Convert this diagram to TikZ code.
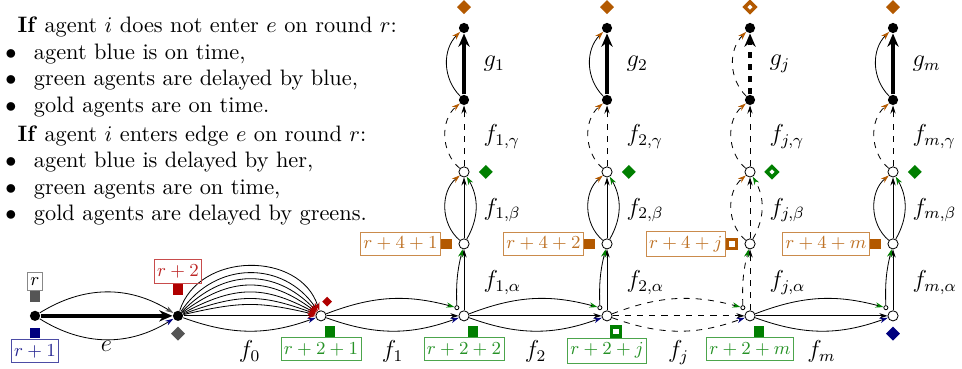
\documentclass[tikz,border=0pt]{standalone}
\usepackage{amsmath,amssymb}
\usepackage{xcolor}
\usepackage{tikz}
\usetikzlibrary{arrows.meta,positioning,shapes.geometric,calc}
\definecolor{agblue}{HTML}{00007F}
\definecolor{agred}{HTML}{B00000}
\definecolor{aggreen}{HTML}{007F00}
\definecolor{aggold}{HTML}{B35900}
\definecolor{aggray}{HTML}{555555}
\newcommand{\itm}{\makebox[14pt][l]{$\bullet$}}

\begin{document}
\begin{tikzpicture}[
    x=2.464cm, y=1.24cm,
    lbl/.style={font=\large, inner sep=1pt},
    txt/.style={align=left, anchor=north west, inner sep=0pt, font=\fontsize{10.95}{13}\selectfont},
    blk/.style={circle, fill=black, inner sep=0pt, minimum size=5pt},
    opn/.style={circle, draw, fill=white, inner sep=0pt, minimum size=5pt},
    tiny/.style={circle, draw, fill=white, inner sep=0pt, minimum size=2pt},
    tipc/.style={-{Stealth[length=4pt, width=2.6pt, color=#1]}},
    thickarr/.style={line width=1.8pt, -{Stealth[length=6.5pt, width=5.5pt]}},
    rbox/.style={draw=#1!70, text=#1!85, font=\small, inner xsep=1.5pt, inner ysep=2.4pt},
    sq/.style={rectangle, inner sep=0pt, minimum size=5.2pt, hollow/.style={minimum size=4.4pt}},
    dm/.style={diamond, inner sep=0pt, minimum size=7pt, hollow/.style={minimum size=5.8pt}},
    mk/.code 2 args={\ifnum#1=1 \pgfkeysalso{draw=#2, fill=white, line width=1.7pt, hollow}\else\pgfkeysalso{fill=#2}\fi}
  ]
  \useasboundingbox (-2.2448,-0.736) rectangle (4.4825,4.389);

  % conditions
  \node[txt] (cond1) at (-2.21,4.16) {\hspace*{6pt}\textbf{If} agent $i$ does not enter $e$ on round $r$:\\
    \itm agent blue is on time,\\
    \itm green agents are delayed by blue,\\
    \itm gold agents are on time.};
  \node[txt] (cond2) at (-2.21,2.65) {\hspace*{6pt}\textbf{If} agent $i$ enters edge $e$ on round $r$:\\
    \itm agent blue is delayed by her,\\
    \itm green agents are on time,\\
    \itm gold agents are delayed by greens.};

  % edge e and the bundle f_0
  \node[blk] (v0) at (-2,0) {};
  \node[blk] (v1) at (-1,0) {};
  \node[opn] (w0) at (0,0) {};
  \draw[thickarr] (v0) -- (v1);
  \draw[tipc=aggray] (v0) to[bend left=32] (v1);
  \draw[tipc=agblue] (v0) to[bend right=32] (v1);
  \foreach \a in {0,13,20,28,37,46,56,72}
    \draw[tipc=agred, looseness=1.15] (v1) to[bend left=\a] (w0);
  \draw[tipc=agblue] (v1) to[bend right=20] (w0);
  \node[lbl, anchor=north] (le) at (-1.5,-0.31) {$e$};
  \node[lbl, anchor=north] (lf0) at (-0.5,-0.31) {$f_0$};

  \node[sq, fill=aggray, above=4pt of v0] (qr) {};
  \node[rbox=aggray, text=black, above=0pt of qr] (tr) {$r$};
  \node[sq, fill=agblue, below=3pt of v0] (qb) {};
  \node[rbox=agblue, below=0pt of qb] (tb) {$r+1$};
  \node[sq, fill=agred, above=7.5pt of v1] (qred) {};
  \node[rbox=agred, above=0pt of qred] (tred) {$r+2$};
  \node[dm, fill=aggray, below=2.3pt of v1] (dgray) {};
  \node[dm, fill=agred, minimum size=5pt] (dred) at ([shift={(3pt,7pt)}]w0) {};

  % the m branches
  \foreach \k/\s/\ls/\hol in {1/1/solid/0, 2/2/solid/0, 3/j/dashed/1, 4/m/solid/0} {
    \pgfmathtruncatemacro{\p}{\k-1}
    \node[opn] (w\k) at (\k,0) {};
    \node[tiny] (s\k) at ([shift={(-3.5pt,4pt)}]w\k) {};
    \node[opn] (a\k) at (\k,1) {};
    \node[opn] (b\k) at (\k,2) {};
    \node[blk] (c\k) at (\k,3) {};
    \node[blk] (d\k) at (\k,4) {};

    \draw[\ls, tipc=aggreen] (w\p) to[bend left=18] (s\k);
    \draw[\ls, tipc=black] (w\p) -- (w\k);
    \draw[\ls, tipc=agblue] (w\p) to[bend right=20] (w\k);
    \draw[\ls, tipc=black] (w\k) -- (a\k);
    \draw[\ls, tipc=aggreen] (s\k) to[bend left=8] (a\k);
    \draw[\ls, tipc=black] (a\k) -- (b\k);
    \draw[\ls, tipc=aggold] (a\k) to[bend left=50] (b\k);
    \draw[\ls, tipc=aggreen] (a\k) to[bend right=30] (b\k);
    \draw[dashed, tipc=black] (b\k) -- (c\k);
    \draw[dashed, tipc=aggold] (b\k) to[bend left=50] (c\k);
    \draw[\ls, thickarr] (c\k) -- (d\k);
    \draw[\ls, tipc=aggold] (c\k) to[bend left=45] (d\k);

    \node[lbl, anchor=north] (lf\k) at (\k-0.5,-0.31) {$f_{\s}$};
    \node[lbl, anchor=west] (la\k) at (\k+0.12,0.46) {$f_{\s,\alpha}$};
    \node[lbl, anchor=west] (lb\k) at (\k+0.12,1.47) {$f_{\s,\beta}$};
    \node[lbl, anchor=west] (lc\k) at (\k+0.12,2.49) {$f_{\s,\gamma}$};
    \node[lbl, anchor=west] (ld\k) at (\k+0.12,3.5) {$g_{\s}$};

    \node[sq, mk={\hol}{aggreen}] (qg\k) at ([shift={(4.4pt,-7.6pt)}]w\p) {};
    \node[rbox=aggreen, below=0pt of qg\k, xshift=-4.4pt] (tg\k) {$r+2+\s$};
    \node[sq, mk={\hol}{aggold}, left=3pt of a\k] (qo\k) {};
    \node[rbox=aggold, left=0pt of qo\k] (to\k) {$r+4+\s$};
    \node[dm, mk={\hol}{aggreen}, right=4.3pt of b\k] (dg\k) {};
    \node[dm, mk={\hol}{aggold}, above=3.8pt of d\k] (do\k) {};
  }
  \node[dm, fill=agblue, below=2.3pt of w4] (dblue) {};
\end{tikzpicture}
\end{document}
